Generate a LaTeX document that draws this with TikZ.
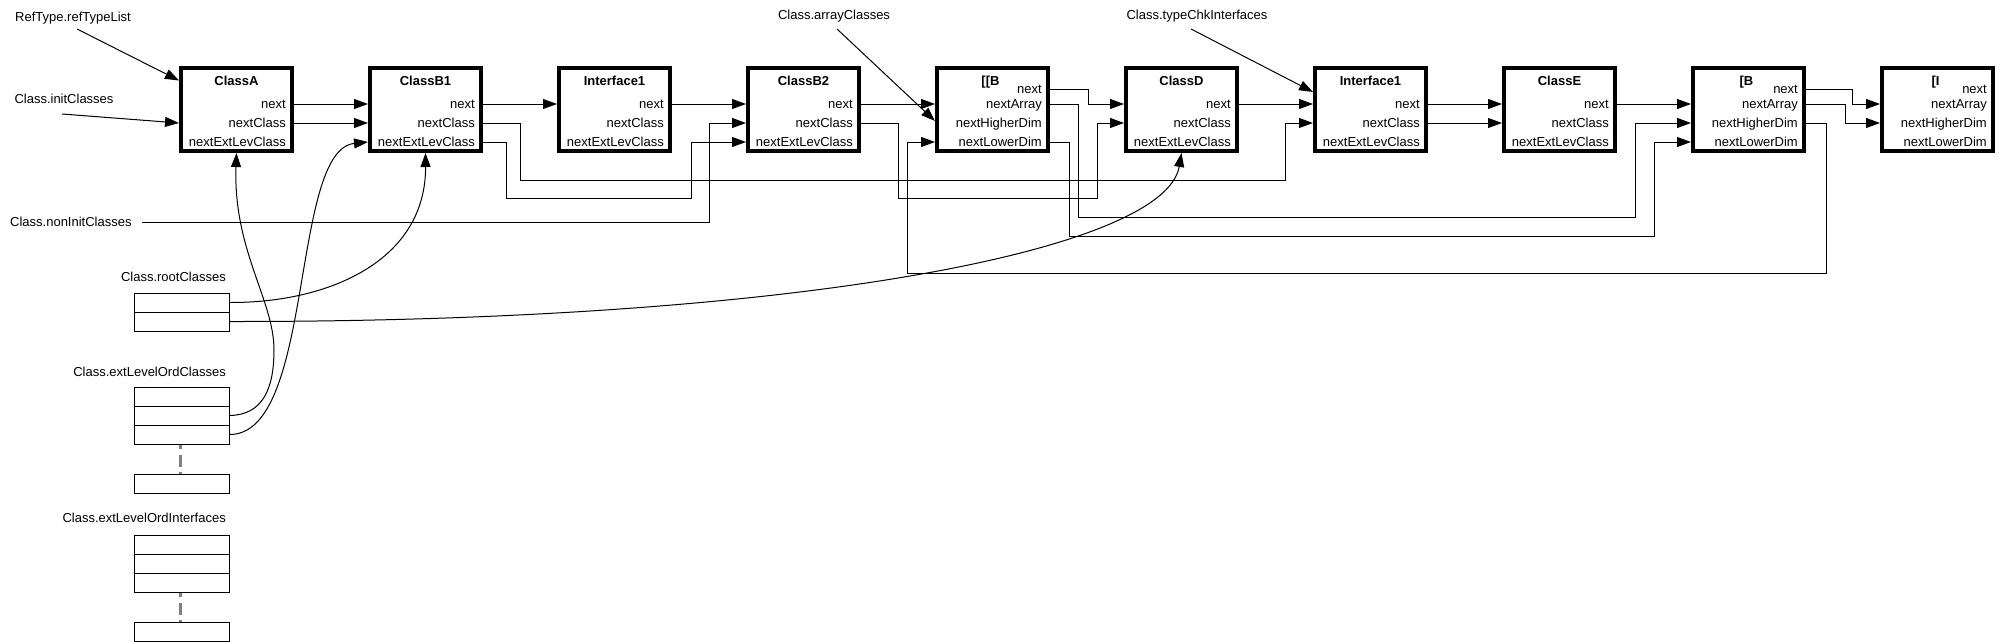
\documentclass[tikz,border=0pt]{standalone}
\usepackage{fontspec}
\setmainfont{Liberation Sans}
\usetikzlibrary{arrows.meta,calc}
\tikzset{
  cbox/.style={draw, line width=4pt, minimum width=111pt, minimum height=83pt, inner sep=0pt},
  rowtxt/.style={inner sep=0pt, anchor=east, text height=9.3pt, text depth=0pt, font=\fontsize{13}{15}\selectfont},
  ttl/.style={inner sep=0pt, text height=9.3pt, text depth=0pt, font=\fontsize{13}{15}\selectfont\bfseries},
  lbl/.style={inner sep=0pt, text height=9.3pt, text depth=0pt, font=\fontsize{13}{15}\selectfont},
  arr/.style={line width=1pt, -{Triangle[length=14pt,width=10pt]}},
  cell/.style={draw, line width=1pt, minimum width=95pt, minimum height=19pt, inner sep=0pt},
  dotsline/.style={draw=gray, line width=3pt, dash pattern=on 4pt off 6pt on 12pt off 5pt on 4pt},
}
\newcommand\clsbox[3]{%
  \node[cbox] (#1) at (#2,109.5) {};
  \node[ttl] (#1-t) at (#2,81) {#3};
  \node[rowtxt] (#1-n) at (#2+49.5,104) {next};
  \node[rowtxt] (#1-c) at (#2+49.5,123) {nextClass};
  \node[rowtxt] (#1-e) at (#2+49.5,142) {nextExtLevClass};
}
\newcommand\arrbox[3]{%
  \node[cbox] (#1) at (#2,109.5) {};
  \node[ttl] (#1-t) at (#2-2,81) {#3};
  \node[rowtxt] (#1-n) at (#2+49.5,89) {next};
  \node[rowtxt] (#1-a) at (#2+49.5,104) {nextArray};
  \node[rowtxt] (#1-h) at (#2+49.5,123) {nextHigherDim};
  \node[rowtxt] (#1-l) at (#2+49.5,142) {nextLowerDim};
}
\begin{document}
\begin{tikzpicture}[x=1pt, y=-1pt]
\useasboundingbox (0,0) rectangle (1997,642);

% main chain
\clsbox{cA}{236.5}{ClassA}
\clsbox{cB1}{425.5}{ClassB1}
\clsbox{cI1}{614.5}{Interface1}
\clsbox{cB2}{803.5}{ClassB2}
\arrbox{aBB}{992.5}{[[B}
\clsbox{cD}{1181.5}{ClassD}
\clsbox{cI2}{1370.5}{Interface1}
\clsbox{cE}{1559.5}{ClassE}
\arrbox{aB}{1748.5}{[B}
\arrbox{aI}{1937.5}{[I}

% labels
\node[lbl] (reflab) at (73,17) {RefType.refTypeList};
\node[lbl] (initlab) at (64,99) {Class.initClasses};
\node[lbl, anchor=west] (nonlab) at (10,222) {Class.nonInitClasses};
\node[lbl] (arrlab) at (834,15) {Class.arrayClasses};
\node[lbl] (tclab) at (1197,15) {Class.typeChkInterfaces};
\node[lbl, anchor=east] (rootlab) at (226,277) {Class.rootClasses};
\node[lbl, anchor=east] (eoclab) at (226,372) {Class.extLevelOrdClasses};
\node[lbl, anchor=east] (eoilab) at (226,518) {Class.extLevelOrdInterfaces};

\coordinate (refsrc) at (77,29);
\coordinate (initsrc) at (62,114);
\coordinate (nonsrc) at (142,222);
\coordinate (arrsrc) at (837,29);
\coordinate (tcsrc) at (1191,29);

% list cells
\node[cell] (rc1) at (181.5,302.5) {};
\node[cell] (rc2) at (181.5,321.5) {};
\node[cell] (eo1) at (181.5,396.5) {};
\node[cell] (eo2) at (181.5,415.5) {};
\node[cell] (eo3) at (181.5,434.5) {};
\node[cell] (eo4) at (181.5,483.5) {};
\node[cell] (ei1) at (181.5,544.5) {};
\node[cell] (ei2) at (181.5,563.5) {};
\node[cell] (ei3) at (181.5,582.5) {};
\node[cell] (ei4) at (181.5,631.5) {};
\draw[dotsline] ([xshift=-1.5pt]eo3.south) -- ([xshift=-1.5pt]eo4.north);
\draw[dotsline] ([xshift=-1.5pt]ei3.south) -- ([xshift=-1.5pt]ei4.north);

% entry arrows
\draw[arr] (refsrc) -- ($(cA.west |- cA-t)+(0,-0.5)$);
\draw[arr] (initsrc) -- (cA.west |- cA-c);
\draw[arr] (nonsrc) -| (709,123) -- (cB2.west |- cB2-c);
\draw[arr] (arrsrc) -- ($(aBB.west |- aBB-h)+(0,-2)$);
\draw[arr] (tcsrc) -- ($(cI2.west |- cI2-t)+(0,11)$);

% chain links
\draw[arr] (cA.east |- cA-n) -- (cB1.west |- cB1-n);
\draw[arr] (cA.east |- cA-c) -- (cB1.west |- cB1-c);
\draw[arr] (cB1.east |- cB1-n) -- (cI1.west |- cI1-n);
\draw[arr] (cB1.east |- cB1-c) -| (520,180) -| (1285,123) -- (cI2.west |- cI2-c);
\draw[arr] (cB1.east |- cB1-e) -| (506,198) -| (691,142) -- (cB2.west |- cB2-e);
\draw[arr] (cI1.east |- cI1-n) -- (cB2.west |- cB2-n);
\draw[arr] (cB2.east |- cB2-n) -- (aBB.west |- aBB-a);
\draw[arr] (cB2.east |- cB2-c) -| (898,198) -| (1097,123) -- (cD.west |- cD-c);
\draw[arr] (aBB.east |- aBB-n) -| (1088,104) -- (cD.west |- cD-n);
\draw[arr] (aBB.east |- aBB-a) -| (1078,217) -| (1635,123) -- (aB.west |- aB-h);
\draw[arr] (aBB.east |- aBB-l) -| (1069,236) -| (1654,142) -- (aB.west |- aB-l);
\draw[arr] (aB.east |- aB-h) -| (1826,273) -| (907,142) -- (aBB.west |- aBB-l);
\draw[arr] (cD.east |- cD-n) -- (cI2.west |- cI2-n);
\draw[arr] (cI2.east |- cI2-n) -- (cE.west |- cE-n);
\draw[arr] (cI2.east |- cI2-c) -- (cE.west |- cE-c);
\draw[arr] (cE.east |- cE-n) -- (aB.west |- aB-a);
\draw[arr] (aB.east |- aB-n) -| (1852,104) -- (aI.west |- aI-a);
\draw[arr] (aB.east |- aB-a) -| (1845,123) -- (aI.west |- aI-h);

% curved links from the lists
\draw[arr] (eo2.east) .. controls (262,415) and (274,390) .. (274,350)
  .. controls (274,300) and (233,250) .. (cA.south);
\draw[arr] (eo3.east) .. controls (315,435) and (290,150) .. (cB1.west |- cB1-e);
\draw[arr] (rc1.east) .. controls (330,303) and (426,260) .. (cB1.south);
\draw[arr] (rc2.east) .. controls (800,322) and (1165,250) .. (cD.south);
\end{tikzpicture}
\end{document}
